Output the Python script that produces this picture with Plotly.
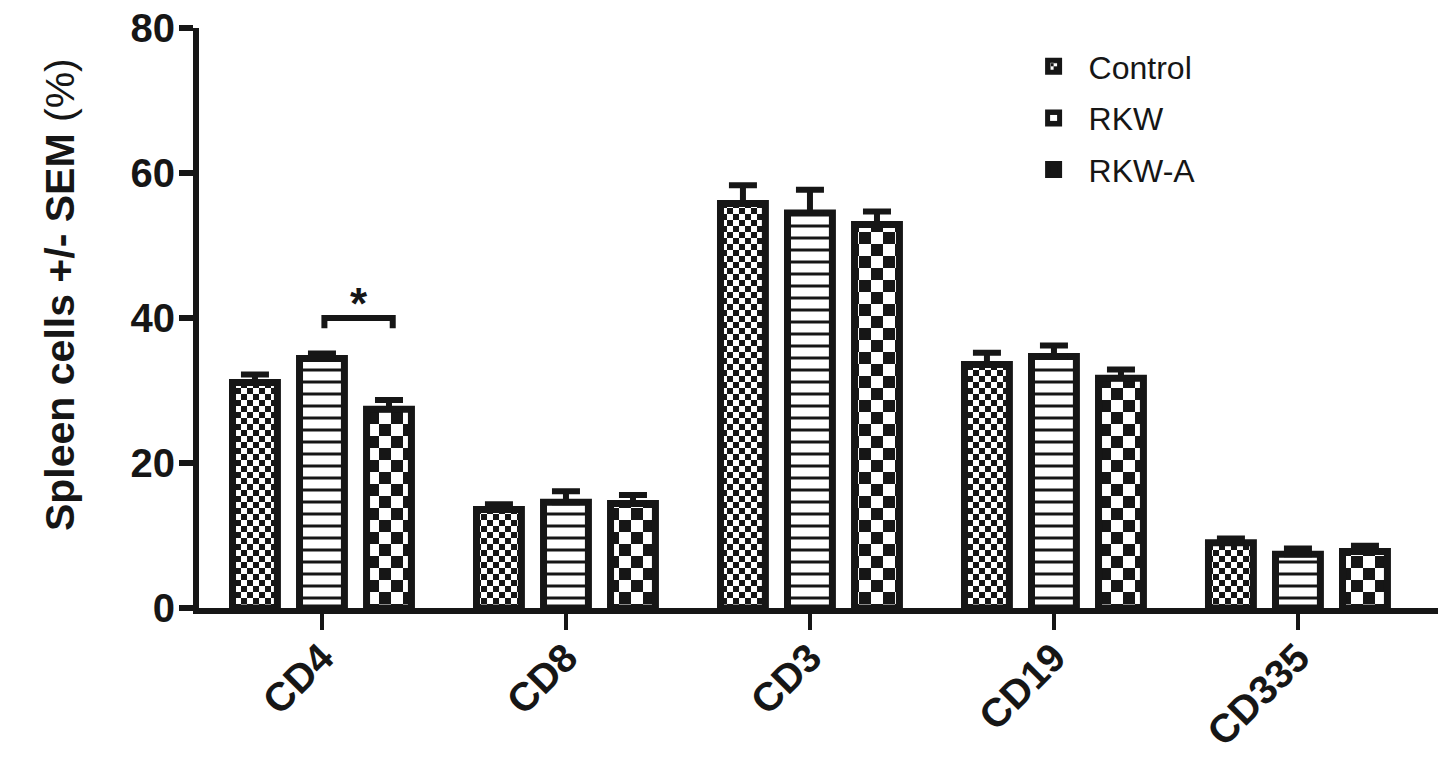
import plotly.graph_objects as go

# ---------------- data ----------------
categories = ["CD4", "CD8", "CD3", "CD19", "CD335"]
group_names = ["Control", "RKW", "RKW-A"]

control_mean = [31.1, 13.6, 55.8, 33.6, 9.0]
control_sem = [1.1, 0.7, 2.5, 1.6, 0.6]
rkw_mean = [34.4, 14.6, 54.5, 34.7, 7.4]
rkw_sem = [0.7, 1.5, 3.2, 1.5, 0.8]
rkwa_mean = [27.4, 14.4, 52.9, 31.7, 7.8]
rkwa_sem = [1.3, 1.2, 1.8, 1.2, 0.8]

y_ticks = [0, 20, 40, 60, 80]
y_title = "Spleen cells +/- SEM"
y_unit = "(%)"
sig_label = "*"

# ---------------- styling ----------------
INK = "#161616"
FONT = "Liberation Sans, Arial, Helvetica, sans-serif"

try:
    go.bar.marker.Pattern(path="M0,0H6V6H0Z")
    HAS_PATH = True
except Exception:
    HAS_PATH = False


def checker(cell):
    s = 2 * cell
    if HAS_PATH:
        return dict(path=f"M0,0H{cell}V{cell}H0ZM{cell},{cell}H{s}V{s}H{cell}Z",
                    size=s, fgcolor=INK, bgcolor="white", fgopacity=1)
    return dict(shape=".", size=cell * 1.4, solidity=0.5,
                fgcolor=INK, bgcolor="white", fgopacity=1)


patterns = [
    checker(6),
    dict(shape="-", size=12, solidity=0.25, fgcolor=INK, bgcolor="white", fgopacity=1),
    checker(12),
]
means = [control_mean, rkw_mean, rkwa_mean]
sems = [control_sem, rkw_sem, rkwa_sem]

fig = go.Figure()
for i, name in enumerate(group_names):
    fig.add_trace(go.Bar(
        x=categories,
        y=means[i],
        name=name,
        legendgroup=name,
        marker=dict(color="white", line=dict(color=INK, width=7), pattern=patterns[i]),
        error_y=dict(type="data", array=sems[i], arrayminus=[0] * len(sems[i]),
                     symmetric=False, color=INK, thickness=6, width=14),
    ))

# significance bracket between RKW and RKW-A of CD4
fig.add_shape(type="path", xref="x", yref="y",
              path="M 0.01,38.6 L 0.01,40 L 0.29,40 L 0.29,38.6",
              line=dict(color=INK, width=6))
fig.add_annotation(x=0.15, y=38.4, xref="x", yref="y", text=f"<b>{sig_label}</b>",
                   showarrow=False, yanchor="bottom",
                   font=dict(family=FONT, size=44, color=INK))

# y-axis title
fig.add_annotation(x=-0.112, y=0.54, xref="paper", yref="paper",
                   text=f"<b>{y_title}</b> {y_unit}", textangle=-90,
                   showarrow=False, xanchor="center", yanchor="middle",
                   font=dict(family=FONT, size=41, color=INK))

fig.update_layout(
    width=1441, height=758,
    margin=dict(l=199, r=3, t=28, b=150, pad=0, autoexpand=False),
    paper_bgcolor="white", plot_bgcolor="white",
    barmode="group", bargap=0.176, bargroupgap=0.33,
    showlegend=True,
    legend=dict(x=0.6615, y=0.981, xanchor="left", yanchor="top",
                font=dict(family=FONT, size=32, color=INK),
                bgcolor="rgba(0,0,0,0)", itemwidth=60, tracegroupgap=7,
                traceorder="grouped"),
    font=dict(family=FONT, color=INK),
)

fig.update_yaxes(
    range=[0, 80], tickvals=y_ticks, ticktext=[str(v) for v in y_ticks],
    showgrid=False, zeroline=False, automargin=False,
    showline=True, linecolor=INK, linewidth=6,
    ticks="outside", ticklen=14, tickwidth=6, tickcolor=INK,
    tickfont=dict(family=FONT, size=40, color=INK, weight="bold"),
    ticklabelstandoff=-4,
)
fig.update_xaxes(
    range=[-0.504, 4.574],
    showgrid=False, zeroline=False, automargin=False,
    showline=True, linecolor=INK, linewidth=6,
    ticks="outside", ticklen=16, tickwidth=4, tickcolor=INK,
    tickangle=-45,
    tickfont=dict(family=FONT, size=40, color=INK, weight="bold"),
    ticklabelstandoff=-12,
)

fig.write_html(
    "out.html",
    config={"displayModeBar": False},
    post_script="document.body.style.margin='0';document.body.style.padding='0';",
)
